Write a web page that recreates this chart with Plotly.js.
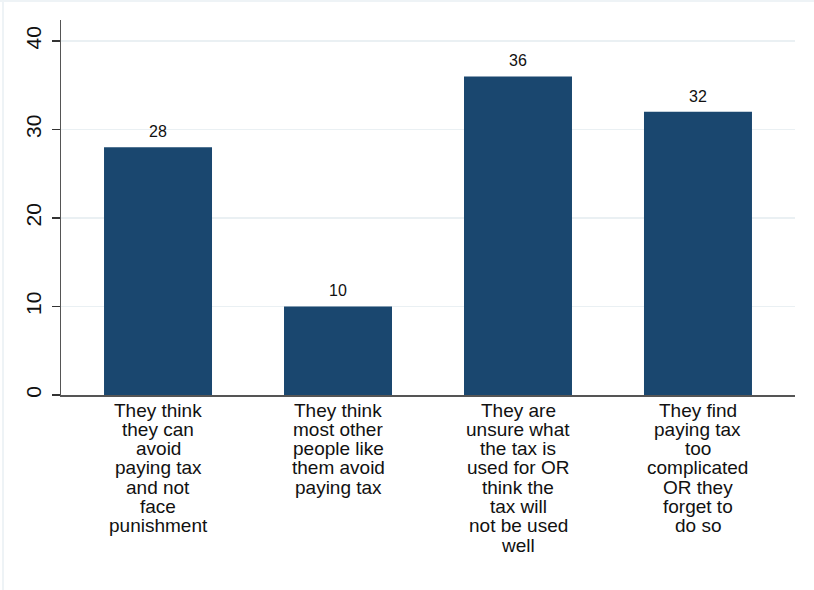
<!DOCTYPE html>
<html>
<head>
<meta charset="utf-8">
<script src="https://cdn.plot.ly/plotly-3.0.1.min.js"></script>
<style>html,body{margin:0;padding:0;background:#fff;}#chart{width:814px;height:590px;}</style>
</head>
<body>
<div id="chart"></div>
<script>
const categoryLabels = [
  ["They think", "they can", "avoid", "paying tax", "and not", "face", "punishment"],
  ["They think", "most other", "people like", "them avoid", "paying tax"],
  ["They are", "unsure what", "the tax is", "used for OR", "think the", "tax will", "not be used", "well"],
  ["They find", "paying tax", "too", "complicated", "OR they", "forget to", "do so"]
];
const values = [28, 10, 36, 32];
const yTicks = [0, 10, 20, 30, 40];

const FONT = "Liberation Sans, Arial, Helvetica, sans-serif";
const xIdx = values.map((v, i) => i);

const trace = {
  type: "bar",
  x: xIdx,
  y: values,
  width: 0.6,
  marker: {color: "#1a476f", line: {width: 0}},
  hoverinfo: "none"
};

const annotations = [];
values.forEach((v, i) => {
  annotations.push({
    x: i, y: v, xref: "x", yref: "y",
    text: String(v), showarrow: false,
    yanchor: "bottom", yshift: 5,
    font: {family: FONT, size: 16, color: "#111"}
  });
});
const LINE = 19.3;
categoryLabels.forEach((lines, i) => {
  lines.forEach((t, j) => {
    annotations.push({
      x: i, y: 0, xref: "x", yref: "paper",
      text: t, showarrow: false,
      yanchor: "middle", yshift: -(15 + j * LINE),
      font: {family: FONT, size: 19, color: "#111"}
    });
  });
});

const layout = {
  width: 814, height: 590,
  margin: {l: 61, r: 19, t: 20, b: 195},
  paper_bgcolor: "#ffffff",
  plot_bgcolor: "#ffffff",
  showlegend: false,
  font: {family: FONT, color: "#111"},
  xaxis: {
    range: [-0.539, 3.539],
    showticklabels: false,
    showline: true, linecolor: "#555", linewidth: 1.5,
    ticks: "", showgrid: false, zeroline: false,
    fixedrange: true
  },
  yaxis: {
    range: [0, 42.37],
    tickvals: yTicks,
    ticktext: yTicks.map(String),
    tickangle: -90,
    tickfont: {family: FONT, size: 21, color: "#111"},
    ticks: "outside", ticklen: 8, tickcolor: "#333", tickwidth: 1.3,
    ticklabelstandoff: 2,
    showline: true, linecolor: "#555", linewidth: 1.5,
    showgrid: true, gridcolor: "#eaf0f3", gridwidth: 1.5,
    zeroline: false,
    fixedrange: true
  },
  annotations: annotations,
  shapes: [
    {type: "line", xref: "paper", yref: "paper", x0: -61/734, x1: 1.03, y0: 1 + 19/375, y1: 1 + 19/375,
     line: {color: "#eef3f6", width: 2}},
    {type: "line", xref: "paper", yref: "paper", x0: -58/734, x1: -58/734, y0: 1.06, y1: -0.6,
     line: {color: "#eef3f6", width: 2}}
  ]
};

Plotly.newPlot("chart", [trace], layout, {displayModeBar: false, staticPlot: true});
</script>
</body>
</html>
